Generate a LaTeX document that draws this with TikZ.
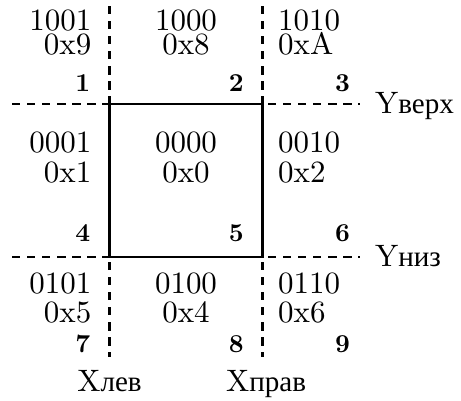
\documentclass[tikz,border=0pt]{standalone}
\usepackage{fontspec}
\setmainfont{lmroman10-regular.otf}[BoldFont=lmroman10-bold.otf]
\newfontfamily\cyr{Liberation Serif}[Scale=MatchLowercase]
\tikzset{
  kod/.style={inner sep=0pt, font=\LARGE},
  nomer/.style={inner sep=0pt, font=\Large\bfseries, anchor=base east},
  metka/.style={inner sep=0pt, font=\LARGE},
  granica/.style={line width=1.5pt, dash pattern=on 4.6pt off 3.8pt},
  okno/.style={line width=1.5pt},
}

\begin{document}
\begin{tikzpicture}
  \useasboundingbox (-2.147,-2.804) rectangle (6.892,5.039);

  % boundary lines of the window
  \coordinate (XlT) at (0,4.92);
  \coordinate (XlB) at (0,-1.96);
  \coordinate (XpT) at (3,4.92);
  \coordinate (XpB) at (3,-1.96);
  \coordinate (YvL) at (-1.91,3);
  \coordinate (YvR) at (4.92,3);
  \coordinate (YnL) at (-1.91,0);
  \coordinate (YnR) at (4.92,0);
  \draw[granica] (XlT) -- (XlB);
  \draw[granica] (XpT) -- (XpB);
  \draw[granica] (YvL) -- (YvR);
  \draw[granica] (YnL) -- (YnR);

  % the window itself
  \coordinate (A) at (0,0);
  \coordinate (B) at (3,3);
  \draw[okno] (A) rectangle (B);

  % region codes
  \node[kod, anchor=base east] (K1) at (-0.35,4.45) {1001};
  \node[kod, anchor=base east] (H1) at (-0.35,3.98) {0x9};
  \node[kod, anchor=base] (K2) at (1.5,4.45) {1000};
  \node[kod, anchor=base] (H2) at (1.5,3.98) {0x8};
  \node[kod, anchor=base west] (K3) at (3.3,4.45) {1010};
  \node[kod, anchor=base west] (H3) at (3.3,3.98) {0xA};

  \node[kod, anchor=base east] (K4) at (-0.35,2.04) {0001};
  \node[kod, anchor=base east] (H4) at (-0.35,1.47) {0x1};
  \node[kod, anchor=base] (K5) at (1.5,2.04) {0000};
  \node[kod, anchor=base] (H5) at (1.5,1.47) {0x0};
  \node[kod, anchor=base west] (K6) at (3.3,2.04) {0010};
  \node[kod, anchor=base west] (H6) at (3.3,1.47) {0x2};

  \node[kod, anchor=base east] (K7) at (-0.35,-0.71) {0101};
  \node[kod, anchor=base east] (H7) at (-0.35,-1.29) {0x5};
  \node[kod, anchor=base] (K8) at (1.5,-0.71) {0100};
  \node[kod, anchor=base] (H8) at (1.5,-1.29) {0x4};
  \node[kod, anchor=base west] (K9) at (3.3,-0.71) {0110};
  \node[kod, anchor=base west] (H9) at (3.3,-1.29) {0x6};

  % region numbers
  \node[nomer] (N1) at (-0.37,3.25) {1};
  \node[nomer] (N2) at (2.64,3.25) {2};
  \node[nomer] (N3) at (4.72,3.25) {3};
  \node[nomer] (N4) at (-0.37,0.31) {4};
  \node[nomer] (N5) at (2.64,0.31) {5};
  \node[nomer] (N6) at (4.72,0.31) {6};
  \node[nomer] (N7) at (-0.37,-1.87) {7};
  \node[nomer] (N8) at (2.64,-1.87) {8};
  \node[nomer] (N9) at (4.72,-1.87) {9};

  % boundary names
  \node[metka, anchor=base] (XL) at (0,-2.63) {X{\cyr лев}};
  \node[metka, anchor=base] (XP) at (3.07,-2.63) {X{\cyr прав}};
  \node[metka, anchor=base west] (YV) at (5.2,2.82) {Y{\cyr верх}};
  \node[metka, anchor=base west] (YN) at (5.2,-0.18) {Y{\cyr низ}};
\end{tikzpicture}
\end{document}
